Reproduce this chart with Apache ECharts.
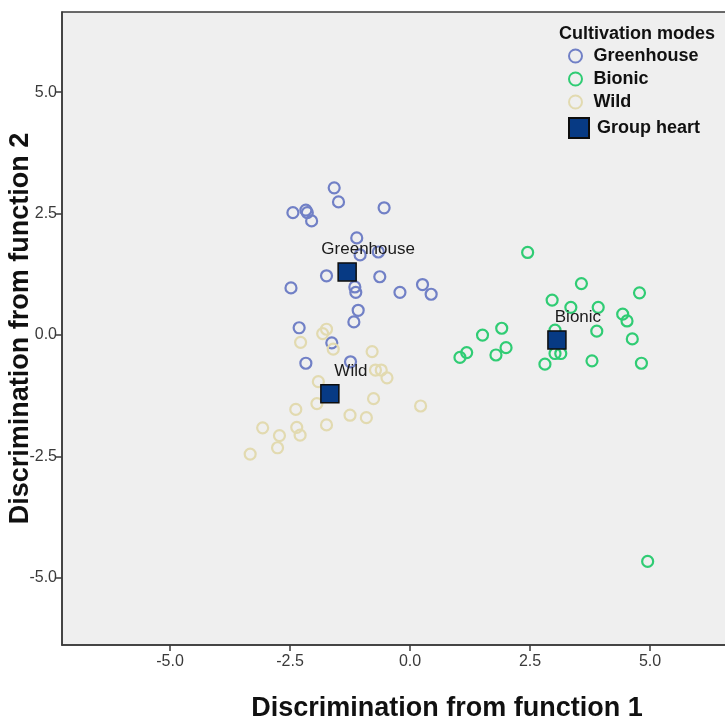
<!DOCTYPE html>
<html>
<head>
<meta charset="utf-8">
<script src="https://cdn.jsdelivr.net/npm/echarts@6/dist/echarts.min.js"></script>
<style>
  html, body { margin: 0; padding: 0; background: #ffffff; }
  #chart { width: 725px; height: 722px; }
</style>
</head>
<body>
<div id="chart"></div>
<script>
// ---- data ----
const groupNames = ['Greenhouse', 'Bionic', 'Wild'];
const legendTitle = 'Cultivation modes';
const centroidName = 'Group heart';
const xAxisTitle = 'Discrimination from function 1';
const yAxisTitle = 'Discrimination from function 2';
const xTicks = [-5, -2.5, 0, 2.5, 5];
const yTicks = [-5, -2.5, 0, 2.5, 5];

const greenhouse = [
  [-1.58, 3.03], [-1.49, 2.74], [-2.44, 2.52], [-2.17, 2.57], [-2.14, 2.52],
  [-2.05, 2.35], [-0.54, 2.62], [-1.11, 2.00], [-1.04, 1.65], [-0.66, 1.71],
  [-1.74, 1.22], [-0.63, 1.20], [-2.48, 0.97], [-1.15, 0.99], [-1.13, 0.88],
  [-0.21, 0.88], [0.26, 1.04], [0.44, 0.84], [-1.08, 0.51], [-1.17, 0.27],
  [-2.31, 0.15], [-1.63, -0.16], [-2.17, -0.58], [-1.24, -0.55]
];
const bionic = [
  [2.45, 1.70], [3.57, 1.06], [4.78, 0.87], [2.96, 0.72], [3.35, 0.57],
  [3.92, 0.57], [4.43, 0.43], [4.52, 0.29], [1.91, 0.14], [1.51, 0.00],
  [3.02, 0.10], [3.89, 0.08], [4.63, -0.08], [2.00, -0.26], [1.79, -0.41],
  [1.18, -0.36], [1.04, -0.46], [3.02, -0.38], [3.14, -0.38], [2.81, -0.60],
  [3.79, -0.53], [4.82, -0.58], [4.95, -4.66]
];
const wild = [
  [-1.74, 0.12], [-1.82, 0.03], [-2.28, -0.15], [-1.60, -0.29], [-0.79, -0.34],
  [-0.72, -0.72], [-0.60, -0.72], [-0.48, -0.88], [-1.91, -0.96], [-0.76, -1.31],
  [0.22, -1.46], [-2.38, -1.53], [-1.94, -1.41], [-1.25, -1.65], [-0.91, -1.70],
  [-1.74, -1.85], [-3.07, -1.91], [-2.36, -1.90], [-2.29, -2.06], [-2.72, -2.07],
  [-2.76, -2.32], [-3.33, -2.45]
];
const centroids = [[-1.31, 1.30], [3.06, -0.10], [-1.67, -1.21]];

// ---- styling ----
const groupColors = ['#7180c6', '#30cc74', '#e2dab0'];
const FONT = '"Liberation Sans", Arial, sans-serif';

const chart = echarts.init(document.getElementById('chart'), null, { renderer: 'canvas' });

function ringSeries(name, data, color) {
  return {
    name: name,
    type: 'scatter',
    data: data,
    symbol: 'circle',
    symbolSize: 11,
    itemStyle: { color: 'rgba(0,0,0,0)', borderColor: color, borderWidth: 2.2, opacity: 1 },
    emphasis: { disabled: true },
    z: 2
  };
}

const option = {
  backgroundColor: '#ffffff',
  animation: false,
  textStyle: { fontFamily: FONT },
  grid: {
    left: 62, top: 12, right: -107, bottom: 77,
    containLabel: false,
    outerBoundsMode: 'none',
    show: true, backgroundColor: '#efefef', borderColor: '#3a3a3a', borderWidth: 1.5
  },
  title: {
    text: legendTitle,
    left: 554, top: 20,
    textStyle: { fontFamily: FONT, fontSize: 18, fontWeight: 'bold', color: '#111' }
  },
  legend: [
    {
      data: groupNames,
      orient: 'vertical',
      left: 568, top: 47,
      padding: 0,
      itemWidth: 20, itemHeight: 13, itemGap: 5,
      icon: 'circle',
      textStyle: { fontFamily: FONT, fontSize: 18, fontWeight: 'bold', color: '#111', padding: [0, 0, 0, 3] },
      selectedMode: false
    },
    {
      data: [centroidName],
      orient: 'vertical',
      left: 568, top: 117,
      padding: 0,
      itemWidth: 20, itemHeight: 20,
      icon: 'rect',
      textStyle: { fontFamily: FONT, fontSize: 18, fontWeight: 'bold', color: '#111', padding: [0, 0, 0, 3] },
      selectedMode: false
    }
  ],
  xAxis: {
    type: 'value',
    min: -7.25, max: 8.79,
    name: xAxisTitle,
    nameLocation: 'middle',
    nameGap: 50,
    nameMoveOverlap: false,
    nameTextStyle: { fontFamily: FONT, fontSize: 27, fontWeight: 'bold', color: '#111' },
    axisLine: { show: true, onZero: false, lineStyle: { color: '#3a3a3a', width: 1.5 } },
    axisTick: { show: true, length: 6, customValues: xTicks, lineStyle: { color: '#3a3a3a', width: 1.5 } },
    axisLabel: {
      customValues: xTicks, margin: 9,
      fontFamily: FONT, fontSize: 16, color: '#3a3a3a',
      formatter: v => v.toFixed(1)
    },
    splitLine: { show: false }
  },
  yAxis: {
    type: 'value',
    min: -6.38, max: 6.65,
    name: yAxisTitle,
    nameLocation: 'middle',
    nameGap: 28,
    nameMoveOverlap: false,
    nameTextStyle: { fontFamily: FONT, fontSize: 27, fontWeight: 'bold', color: '#111' },
    axisLine: { show: true, onZero: false, lineStyle: { color: '#3a3a3a', width: 1.5 } },
    axisTick: { show: true, length: 6, customValues: yTicks, lineStyle: { color: '#3a3a3a', width: 1.5 } },
    axisLabel: {
      customValues: yTicks, margin: 5,
      fontFamily: FONT, fontSize: 16, color: '#3a3a3a',
      formatter: v => v.toFixed(1)
    },
    splitLine: { show: false }
  },
  series: [
    ringSeries(groupNames[0], greenhouse, groupColors[0]),
    ringSeries(groupNames[1], bionic, groupColors[1]),
    ringSeries(groupNames[2], wild, groupColors[2]),
    {
      name: centroidName,
      type: 'scatter',
      symbol: 'rect',
      symbolSize: 18,
      itemStyle: { color: '#073a84', borderColor: '#0d0d0d', borderWidth: 1.5, opacity: 1 },
      data: centroids.map((c, i) => ({ name: groupNames[i], value: c })),
      label: {
        show: true,
        position: 'top',
        distance: 4,
        offset: [21, 0],
        formatter: p => p.name,
        fontFamily: FONT, fontSize: 17, color: '#1a1a1a'
      },
      emphasis: { disabled: true },
      z: 5
    }
  ]
};

chart.setOption(option);
</script>
</body>
</html>
